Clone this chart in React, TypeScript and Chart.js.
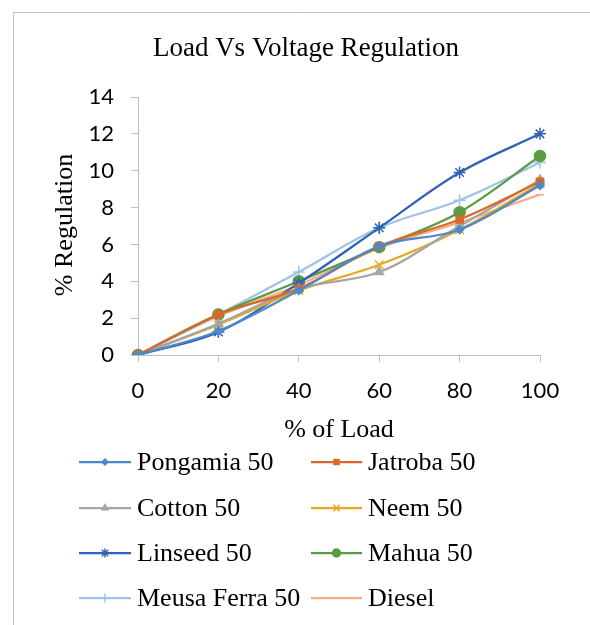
import React, { useEffect, useRef } from "react";
import { Chart, registerables } from "chart.js";
import { drawPoint } from "chart.js/helpers";

Chart.register(...registerables);

const loadLabels = ["0", "20", "40", "60", "80", "100"];
const pongamia = [0, 1.3, 3.5, 5.9, 6.8, 9.2];
const jatroba = [0, 2.2, 3.6, 5.9, 7.35, 9.4];
const cotton = [0, 1.7, 3.6, 4.5, 7.0, 9.5];
const neem = [0, 1.65, 3.5, 4.9, 6.8, 9.3];
const linseed = [0, 1.25, 3.9, 6.9, 9.9, 12.0];
const mahua = [0, 2.2, 4.0, 5.85, 7.75, 10.8];
const meusaFerra = [0, 2.2, 4.5, 6.9, 8.4, 10.45];
const diesel = [0, 2.1, 3.8, 5.8, 7.2, 8.7];

const seriesNames = ["Pongamia 50", "Jatroba 50", "Cotton 50", "Neem 50", "Linseed 50", "Mahua 50", "Meusa Ferra 50", "Diesel"];
const seriesData = [pongamia, jatroba, cotton, neem, linseed, mahua, meusaFerra, diesel];
const seriesColors = ["#4A8ACB", "#D9692A", "#A5A5A5", "#E8A820", "#2F62B5", "#5B9B42", "#9DC3E6", "#F4AE8E"];
const seriesMarkers = ["rectRot", "rect", "triangle", "crossRot", "star", "circle", "cross", "line"];
const markerRadius = [4, 5, 5, 6, 6, 5.5, 6, 4];

const TITLE = "Load Vs Voltage Regulation";
const X_TITLE = "% of Load";
const Y_TITLE = "% Regulation";

const AREA = { left: 138, top: 97, right: 540, bottom: 355 };
const W = 590;
const H = 625;

const decorPlugin = {
  id: "decor",
  beforeDraw(chart: any) {
    const ctx = chart.ctx;
    ctx.save();
    ctx.fillStyle = "#ffffff";
    ctx.fillRect(0, 0, W, H);
    ctx.strokeStyle = "#BFBFBF";
    ctx.lineWidth = 1;
    ctx.beginPath();
    ctx.moveTo(13.5, H);
    ctx.lineTo(13.5, 12.5);
    ctx.lineTo(W, 12.5);
    ctx.stroke();
    ctx.restore();
  },
  afterDraw(chart: any) {
    const ctx = chart.ctx;
    ctx.save();
    ctx.fillStyle = "#000000";
    ctx.textAlign = "center";
    ctx.textBaseline = "alphabetic";
    ctx.font = "27px 'Liberation Serif', 'Times New Roman', serif";
    ctx.fillText(TITLE, 306, 56);
    ctx.font = "26px 'Liberation Serif', 'Times New Roman', serif";
    ctx.fillText(X_TITLE, 339, 437);
    ctx.save();
    ctx.translate(72, 225);
    ctx.rotate(-Math.PI / 2);
    ctx.fillText(Y_TITLE, 0, 0);
    ctx.restore();

    // legend
    const rowsY = [462, 508, 553, 598];
    const cols = [{ x1: 79, x2: 131, tx: 137 }, { x1: 311, x2: 362, tx: 368 }];
    ctx.font = "26px 'Liberation Serif', 'Times New Roman', serif";
    ctx.textAlign = "left";
    ctx.textBaseline = "middle";
    chart.data.datasets.forEach((ds: any, i: number) => {
      const col = cols[i % 2];
      const y = rowsY[Math.floor(i / 2)];
      ctx.strokeStyle = ds.borderColor;
      ctx.fillStyle = ds.borderColor;
      ctx.lineWidth = 2.25;
      ctx.beginPath();
      ctx.moveTo(col.x1, y);
      ctx.lineTo(col.x2, y);
      ctx.stroke();
      const cx = (col.x1 + col.x2) / 2;
      const r = Math.max(3, ds.pointRadius - 1.5);
      ctx.lineWidth = 1.5;
      drawPoint(ctx, { pointStyle: ds.pointStyle, radius: r, borderWidth: 1.5, rotation: 0 } as any, cx, y);
      ctx.fillStyle = "#000000";
      ctx.fillText(ds.label, col.tx, y + 1);
    });
    ctx.restore();
  },
};

export default function App() {
  const ref = useRef<HTMLCanvasElement | null>(null);

  useEffect(() => {
    document.body.style.margin = "0";
    const canvas = ref.current;
    if (!canvas) return;
    const datasets = seriesNames.map((name, i) => ({
      label: name,
      data: seriesData[i],
      borderColor: seriesColors[i],
      backgroundColor: seriesColors[i],
      pointBackgroundColor: seriesColors[i],
      pointBorderColor: seriesColors[i],
      pointStyle: seriesMarkers[i],
      pointRadius: markerRadius[i],
      pointBorderWidth: 1.5,
      borderWidth: 2.25,
      tension: 0.35,
      fill: false,
    }));
    const tickFont = { family: "Lato, 'Noto Sans', sans-serif", size: 22 };
    const chart = new Chart(canvas, {
      type: "line",
      data: { labels: loadLabels, datasets },
      options: {
        animation: false,
        responsive: false,
        devicePixelRatio: 1,
        layout: {
          padding: {
            left: AREA.left - 100,
            top: AREA.top,
            right: W - AREA.right,
            bottom: H - AREA.bottom - 90,
          },
        },
        plugins: {
          legend: { display: false },
          title: { display: false },
          tooltip: { enabled: false },
        },
        scales: {
          x: {
            type: "category",
            offset: false,
            afterFit(scale: any) {
              scale.height = 90;
            },
            grid: {
              display: true,
              drawOnChartArea: false,
              drawTicks: true,
              tickLength: 7,
              tickColor: "#BFBFBF",
              tickWidth: 1,
            },
            border: { display: true, color: "#BFBFBF", width: 1 },
            ticks: { color: "#000000", font: tickFont, padding: 16, maxRotation: 0 },
          },
          y: {
            type: "linear",
            min: 0,
            max: 14,
            afterFit(scale: any) {
              scale.width = 100;
            },
            grid: {
              display: true,
              drawOnChartArea: false,
              drawTicks: true,
              tickLength: 7,
              tickColor: "#BFBFBF",
              tickWidth: 1,
            },
            border: { display: true, color: "#BFBFBF", width: 1 },
            ticks: { color: "#000000", font: tickFont, stepSize: 2, padding: 17 },
          },
        },
      },
      plugins: [decorPlugin],
    } as any);
    return () => chart.destroy();
  }, []);

  return (
    <div style={{ width: W, height: H }}>
      <canvas ref={ref} width={W} height={H} style={{ width: W, height: H, display: "block" }} />
    </div>
  );
}
